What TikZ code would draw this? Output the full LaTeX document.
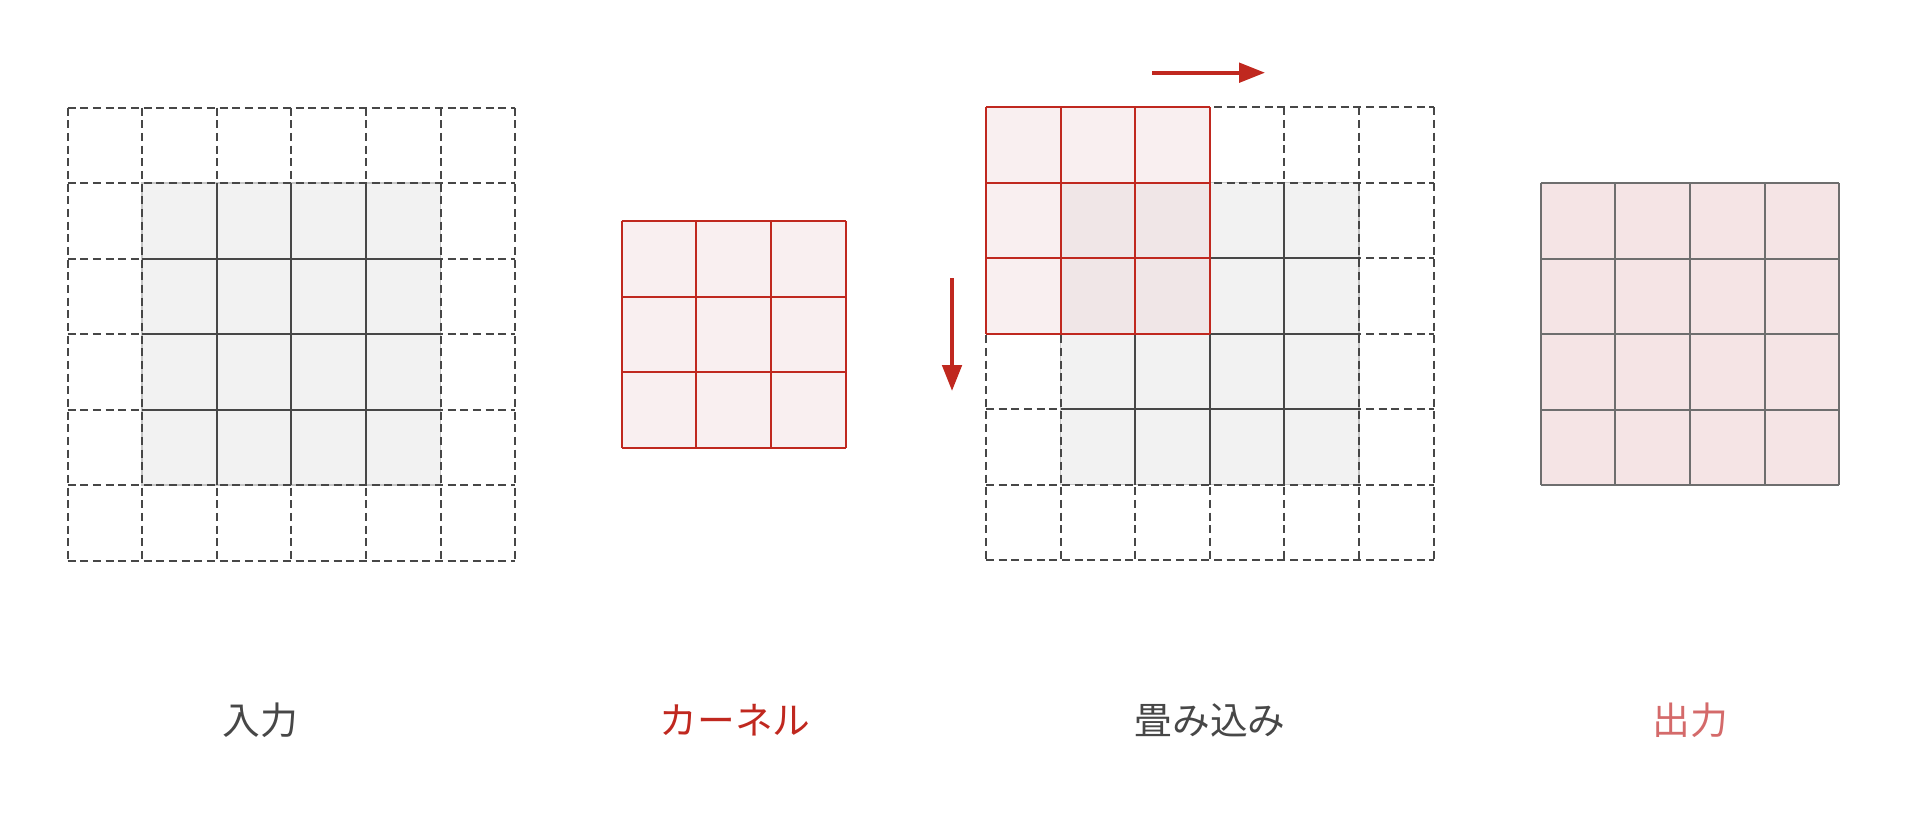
\documentclass[tikz,border=0pt]{standalone}
\usepackage{fontspec}
\newfontfamily\cjk{Noto Sans CJK JP}
\usetikzlibrary{arrows.meta}
\definecolor{dgray}{HTML}{474747}
\definecolor{gfill}{HTML}{F2F2F2}
\definecolor{kred}{HTML}{C0281F}
\definecolor{kfill}{HTML}{F9EFF0}
\definecolor{kover}{HTML}{F0E6E7}
\definecolor{ofill}{HTML}{F5E4E5}
\definecolor{oline}{HTML}{6E6E6E}
\definecolor{olabel}{HTML}{D46A6A}
\tikzset{
  dashl/.style={draw=dgray, line width=1.5pt, dash pattern=on 6pt off 3.5pt},
  solidl/.style={draw=dgray, line width=1.5pt},
  redl/.style={draw=kred, line width=1.5pt},
  outl/.style={draw=oline, line width=1.5pt},
  lbl/.style={font=\cjk\fontsize{28.3pt}{33pt}\selectfont, inner sep=0pt},
  movearrow/.style={draw=kred, line width=3pt, -{Triangle[length=19.5pt, width=14.5pt]}},
  cellunits/.style={x=55.95pt, y=-56.625pt}
}
\begin{document}
\begin{tikzpicture}[x=0.75pt, y=-0.75pt]
\useasboundingbox (0,0) rectangle (1912,818);

% Input (6x6 with padding)
\begin{scope}[shift={(67.5,107.5)}, cellunits]
  \fill[gfill, draw=gray!45, line width=1pt] (1,1) rectangle (5,5);
  \foreach \i in {2,3,4} {
    \draw[solidl] (\i,1) -- (\i,5);
    \draw[solidl] (1,\i) -- (5,\i);
  }
  \foreach \i in {0,...,6} {
    \draw[dashl] (\i,0) -- (\i,6);
    \draw[dashl] (0,\i) -- (6,\i);
  }
\end{scope}

% Kernel 3x3
\begin{scope}[shift={(621.7,221)}, cellunits]
  \fill[kfill] (0,0) rectangle (3,3);
  \foreach \i in {0,...,3} {
    \draw[redl] (\i,0) -- (\i,3);
    \draw[redl] (0,\i) -- (3,\i);
  }
\end{scope}

% Convolution
\begin{scope}[shift={(986,107.3)}, cellunits]
  \fill[gfill, draw=gray!45, line width=1pt] (1,1) rectangle (5,5);
  \foreach \i in {2,3,4} {
    \draw[solidl] (\i,1) -- (\i,5);
    \draw[solidl] (1,\i) -- (5,\i);
  }
  \foreach \i in {0,...,6} {
    \draw[dashl] (\i,0) -- (\i,6);
    \draw[dashl] (0,\i) -- (6,\i);
  }
  \fill[kfill] (0,0) rectangle (3,3);
  \fill[kover] (1,1) rectangle (3,3);
  \foreach \i in {0,...,3} {
    \draw[redl] (\i,0) -- (\i,3);
    \draw[redl] (0,\i) -- (3,\i);
  }
\end{scope}

% Output 4x4
\begin{scope}[shift={(1540.7,183.3)}, cellunits]
  \fill[ofill] (0,0) rectangle (4,4);
  \foreach \i in {0,...,4} {
    \draw[outl] (\i,0) -- (\i,4);
    \draw[outl] (0,\i) -- (4,\i);
  }
\end{scope}

% Movement arrows
\coordinate (ra) at (1152,72.7);
\coordinate (rb) at (1265,72.7);
\coordinate (da) at (952,278);
\coordinate (db) at (952,391);
\draw[movearrow] (ra) -- (rb);
\draw[movearrow] (da) -- (db);

% Labels
\node[lbl, text=dgray] (l1) at (260,720) {入力};
\node[lbl, text=kred] (l2) at (735,720) {カーネル};
\node[lbl, text=dgray] (l3) at (1210,720) {畳み込み};
\node[lbl, text=olabel] (l4) at (1690,720) {出力};
\end{tikzpicture}
\end{document}
